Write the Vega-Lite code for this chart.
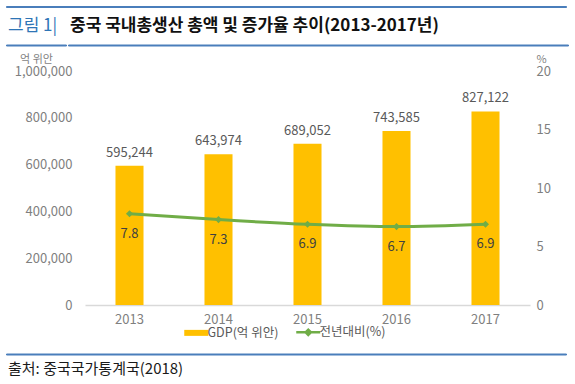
{
  "$schema": "https://vega.github.io/schema/vega-lite/v6.json",
  "padding": {"left": 5, "right": 5, "top": 5, "bottom": 0},
  "spacing": 6.5,
  "config": {"view": {"stroke": null}, "font": "Noto Sans CJK KR"},
  "resolve": {"scale": {"x": "independent", "y": "independent", "color": "independent"}, "axis": {"x": "independent", "y": "independent"}, "legend": {"color": "independent"}},
  "vconcat": [
    {"width": 560, "height": 1, "view": {"fill": "#4A7EBB", "stroke": "#4A7EBB"}, "data": {"values": [{"k": "line"}]}, "mark": {"type": "point", "opacity": 0, "size": 0, "strokeWidth": 0}, "encoding": {},
     "title": {"text": " ", "orient": "bottom", "fontSize": 1, "offset": 0}},
    {"hconcat": [
      {"width": 60, "height": 1, "view": {"fill": "#4A7EBB", "stroke": "#4A7EBB"}, "data": {"values": [{"k": "line"}]}, "mark": {"type": "point", "opacity": 0, "size": 0, "strokeWidth": 0}, "encoding": {},
       "title": {"text": "그림 1|", "anchor": "start", "dx": 2, "color": "#2E75B6", "fontSize": 17, "fontWeight": "normal", "offset": 10}},
      {"width": 500, "height": 1, "view": {"fill": "#4A7EBB", "stroke": "#4A7EBB"}, "data": {"values": [{"k": "line"}]}, "mark": {"type": "point", "opacity": 0, "size": 0, "strokeWidth": 0}, "encoding": {},
       "title": {"text": "중국 국내총생산 총액 및 증가율 추이(2013-2017년)", "anchor": "start", "dx": 2, "color": "#111111", "fontSize": 17, "fontWeight": "bold", "offset": 10}}
    ], "spacing": 0, "resolve": {"scale": {"x": "independent", "y": "independent"}, "axis": {"x": "independent", "y": "independent"}}},
    {"hconcat": [
      {"width": 7, "height": 10, "view": {"stroke": "transparent"}, "data": {"values": []}, "mark": "text", "encoding": {}},
      {
      "width": 445, "height": 234,
      "view": {"stroke": null},
      "data": {"values": [
        {"year": "2013", "gdp": 595244, "growth": 7.8},
        {"year": "2014", "gdp": 643974, "growth": 7.3},
        {"year": "2015", "gdp": 689052, "growth": 6.9},
        {"year": "2016", "gdp": 743585, "growth": 6.7},
        {"year": "2017", "gdp": 827122, "growth": 6.9}
      ]},
      "encoding": {"x": {"field": "year", "type": "ordinal", "scale": {"paddingInner": 0.685, "paddingOuter": 0.3425},
        "axis": {"title": null, "labelAngle": 0, "labelFontSize": 13, "labelColor": "#7f7f7f", "labelPadding": 8, "ticks": false, "domainColor": "#d9d9d9", "domainWidth": 1.5}}},
      "layer": [
        {"encoding": {"y": {"field": "gdp", "type": "quantitative", "scale": {"domain": [0, 1000000]},
          "axis": {"orient": "left", "values": [0, 200000, 400000, 600000, 800000, 1000000], "labelExpr": "format(datum.value, ',')", "grid": false, "domain": false, "ticks": false, "labelFontSize": 13, "labelColor": "#7f7f7f", "labelPadding": 13,
            "title": "억 위안", "titleAngle": 0, "titleAlign": "center", "titleBaseline": "top", "titleX": -49, "titleY": -18, "titleFontSize": 11, "titleFontWeight": "normal", "titleColor": "#7f7f7f"}}},
         "layer": [
           {"mark": {"type": "bar"}, "encoding": {"color": {"datum": "GDP(억 위안)", "type": "nominal",
             "scale": {"domain": ["GDP(억 위안)", "전년대비(%)"], "range": ["#FFC000", "#70AD47"]},
             "legend": {"orient": "none", "legendX": 99, "legendY": 249, "title": null, "direction": "horizontal", "symbolSize": 576, "labelFontSize": 12.5, "labelColor": "#595959", "labelOffset": 5, "columnPadding": 12, "padding": 6,
               "encode": {"symbols": {"update": {
                 "shape": {"signal": "datum.value === 'GDP(억 위안)' ? 'M-1,-0.25H1V0.25H-1Z' : 'M-1,0H1M-0.22,0L0,-0.22L0.22,0L0,0.22Z'"},
                 "strokeWidth": {"signal": "datum.value === 'GDP(억 위안)' ? 0 : 2.5"},
                 "fill": {"signal": "datum.value === 'GDP(억 위안)' ? '#FFC000' : '#70AD47'"},
                 "stroke": {"signal": "datum.value === 'GDP(억 위안)' ? '#FFC000' : '#70AD47'"},
                 "opacity": {"value": 1}, "fillOpacity": {"value": 1}, "strokeOpacity": {"value": 1}}}}}}}},
           {"mark": {"type": "text", "baseline": "bottom", "dy": -6, "fontSize": 13, "color": "#595959"}, "encoding": {"text": {"field": "gdp", "type": "quantitative", "format": ","}}}
         ]},
        {"encoding": {"y": {"field": "growth", "type": "quantitative", "scale": {"domain": [0, 20]},
          "axis": {"orient": "right", "values": [0, 5, 10, 15, 20], "grid": false, "domain": false, "ticks": false, "labelFontSize": 13, "labelColor": "#7f7f7f", "labelPadding": 6,
            "title": "%", "titleAngle": 0, "titleAlign": "center", "titleBaseline": "top", "titleX": 11, "titleY": -18, "titleFontSize": 11, "titleFontWeight": "normal", "titleColor": "#7f7f7f"}}},
         "layer": [
           {"mark": {"type": "line", "interpolate": "monotone", "strokeWidth": 3, "point": {"shape": "diamond", "size": 50, "filled": true}}, "encoding": {"color": {"datum": "전년대비(%)", "type": "nominal"}}},
           {"mark": {"type": "text", "baseline": "middle", "dy": 20, "fontSize": 13, "color": "#404040"}, "encoding": {"text": {"field": "growth", "type": "quantitative", "format": ".1f"}}}
         ]}
      ],
      "resolve": {"scale": {"y": "independent"}}
      }
    ], "spacing": 0, "resolve": {"scale": {"x": "independent", "y": "independent", "color": "independent"}, "axis": {"x": "independent", "y": "independent"}, "legend": {"color": "independent"}}},
    {"width": 560, "height": 1, "view": {"fill": "#4A7EBB", "stroke": "#4A7EBB"}, "data": {"values": [{"k": "line"}]}, "mark": {"type": "point", "opacity": 0, "size": 0, "strokeWidth": 0}, "encoding": {},
     "title": {"text": "출처: 중국국가통계국(2018)", "orient": "bottom", "anchor": "start", "dx": 2, "fontSize": 15, "fontWeight": "normal", "color": "#1a1a1a", "offset": 7}}
  ]
}
